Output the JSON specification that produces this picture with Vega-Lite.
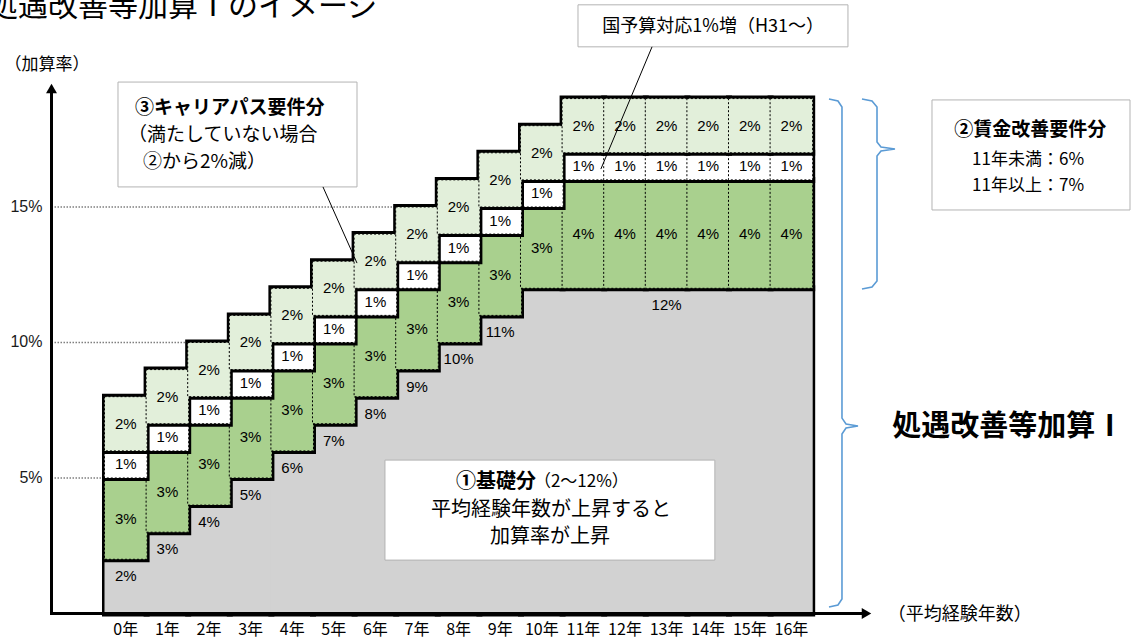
{
"$schema":"https://vega.github.io/schema/vega-lite/v6.json",
"width":1138,"height":644,"autosize":"none","padding":0,"background":"#ffffff",
"config":{"view":{"stroke":null},"font":"Noto Sans CJK JP","text":{"color":"#000000"}},
"datasets":{
"cells":[
{"year":0,"base":2,"green":3,"white":1,"light":2},
{"year":1,"base":3,"green":3,"white":1,"light":2},
{"year":2,"base":4,"green":3,"white":1,"light":2},
{"year":3,"base":5,"green":3,"white":1,"light":2},
{"year":4,"base":6,"green":3,"white":1,"light":2},
{"year":5,"base":7,"green":3,"white":1,"light":2},
{"year":6,"base":8,"green":3,"white":1,"light":2},
{"year":7,"base":9,"green":3,"white":1,"light":2},
{"year":8,"base":10,"green":3,"white":1,"light":2},
{"year":9,"base":11,"green":3,"white":1,"light":2},
{"year":10,"base":12,"green":3,"white":1,"light":2},
{"year":11,"base":12,"green":4,"white":1,"light":2},
{"year":12,"base":12,"green":4,"white":1,"light":2},
{"year":13,"base":12,"green":4,"white":1,"light":2},
{"year":14,"base":12,"green":4,"white":1,"light":2},
{"year":15,"base":12,"green":4,"white":1,"light":2},
{"year":16,"base":12,"green":4,"white":1,"light":2}
],
"grid":[{"pct":5},{"pct":10},{"pct":15}],
"braces":[
{"id":"all","k":1,"x":17.404,"y":18.985},
{"id":"all","k":2,"x":17.62,"y":18.911},
{"id":"all","k":3,"x":17.716,"y":18.69},
{"id":"all","k":4,"x":17.716,"y":7.21},
{"id":"all","k":5,"x":17.813,"y":6.99},
{"id":"all","k":6,"x":18.101,"y":6.919},
{"id":"all","k":7,"x":17.813,"y":6.845},
{"id":"all","k":8,"x":17.716,"y":6.624},
{"id":"all","k":9,"x":17.716,"y":0.535},
{"id":"all","k":10,"x":17.62,"y":0.314},
{"id":"all","k":11,"x":17.404,"y":0.24},
{"id":"wage","k":1,"x":18.197,"y":18.985},
{"id":"wage","k":2,"x":18.438,"y":18.911},
{"id":"wage","k":3,"x":18.558,"y":18.69},
{"id":"wage","k":4,"x":18.558,"y":17.399},
{"id":"wage","k":5,"x":18.654,"y":17.214},
{"id":"wage","k":6,"x":18.99,"y":17.14},
{"id":"wage","k":7,"x":18.654,"y":17.066},
{"id":"wage","k":8,"x":18.558,"y":16.882},
{"id":"wage","k":9,"x":18.558,"y":12.269},
{"id":"wage","k":10,"x":18.438,"y":12.048},
{"id":"wage","k":11,"x":18.197,"y":11.974}
],
"boxes":[
{"x":0.3125,"x2":6.058,"y":19.61,"y2":15.74},
{"x":11.37,"x2":17.86,"y":22.46,"y2":20.91},
{"x":19.88,"x2":24.64,"y":18.95,"y2":14.89},
{"x":6.73,"x2":14.66,"y":5.66,"y2":1.97}
],
"leaders":[
{"x":5.24,"y":15.74,"x2":6.058,"y2":12.93},
{"x":13.15,"y":20.91,"x2":11.92,"y2":16.4}
],
"notes":[
{"role":"title","x":-2.812,"y":22.05,"text":"処遇改善等加算Ⅰのイメージ"},
{"role":"y_title","x":-1.394,"y":20.24,"text":"（加算率）"},
{"role":"x_title","x":20.55,"y":-0.055,"text":"（平均経験年数）"},
{"role":"career_head","x":0.72,"y":18.65,"text":"③キャリアパス要件分"},
{"role":"career_body","x":0.553,"y":17.66,"text":"（満たしていない場合"},
{"role":"career_body","x":0.913,"y":16.66,"text":"②から2%減）"},
{"role":"budget","x":14.62,"y":21.64,"text":"国予算対応1%増（H31～）"},
{"role":"wage_head","x":22.24,"y":17.84,"text":"②賃金改善要件分"},
{"role":"wage_body","x":22.19,"y":16.73,"text":"11年未満：6%"},
{"role":"wage_body","x":22.19,"y":15.77,"text":"11年以上：7%"},
{"role":"total","x":21.71,"y":6.88,"text":"処遇改善等加算Ⅰ"},
{"role":"base_head","x":10.36,"y":4.85,"text":"①基礎分"},
{"role":"base_range","x":10.31,"y":4.85,"text":"（2～12%）"},
{"role":"base_body","x":10.72,"y":3.82,"text":"平均経験年数が上昇すると"},
{"role":"base_body","x":10.7,"y":2.82,"text":"加算率が上昇"}
],
"axislines":[
{"x":-1.286,"y":0,"x2":-1.286,"y2":19.2},
{"x":-1.286,"y":0,"x2":18.197,"y2":0}
],
"arrows":[{"dir":"up","x":-1.286,"y":19.37},{"dir":"right","x":18.305,"y":0}]
},
"layer":[
{"data":{"name":"grid"},
 "mark":{"type":"rule","stroke":"#7f7f7f","strokeWidth":1.5,"strokeDash":[1.5,1.5]},
 "encoding":{
  "x":{"datum":-1.286,"type":"quantitative","scale":{"domain":[-2.524,24.832],"nice":false,"zero":false},"axis":null},
  "x2":{"datum":17},
  "y":{"field":"pct","type":"quantitative","scale":{"domain":[-1.126,22.638],"nice":false,"zero":false},"axis":null}}},
{"data":{"name":"grid"},
 "transform":[{"calculate":"datum.pct + '%'","as":"label"}],
 "mark":{"type":"text","font":"Liberation Sans","fontSize":16,"align":"right","baseline":"middle","dx":-9,"color":"#1a1a1a"},
 "encoding":{
  "x":{"datum":-1.286,"type":"quantitative","scale":{"domain":[-2.524,24.832],"nice":false,"zero":false},"axis":null},
  "y":{"field":"pct","type":"quantitative","scale":{"domain":[-1.126,22.638],"nice":false,"zero":false},"axis":null},
  "text":{"field":"label"}}},
{"data":{"name":"braces"},
 "mark":{"type":"line","color":"#5b9bd5","strokeWidth":1.6},
 "encoding":{
  "x":{"field":"x","type":"quantitative","scale":{"domain":[-2.524,24.832],"nice":false,"zero":false},"axis":null},
  "y":{"field":"y","type":"quantitative","scale":{"domain":[-1.126,22.638],"nice":false,"zero":false},"axis":null},
  "detail":{"field":"id"},
  "order":{"field":"k","type":"quantitative"}}},
{"data":{"name":"cells"},
 "transform":[
  {"calculate":"datum.year + 0.5","as":"year_mid"},
  {"calculate":"datum.year + '年'","as":"ylabel"}
 ],
 "mark":{"type":"text","fontSize":16,"align":"center","baseline":"middle","dy":17},
 "encoding":{
  "x":{"field":"year_mid","type":"quantitative","scale":{"domain":[-2.524,24.832],"nice":false,"zero":false},"axis":null},
  "y":{"datum":0,"type":"quantitative","scale":{"domain":[-1.126,22.638],"nice":false,"zero":false},"axis":null},
  "text":{"field":"ylabel"}}},
{"data":{"name":"cells"},
 "transform":[
  {"fold":["base","green","white","light"],"as":["part","value"]},
  {"calculate":"indexof(['base','green','white','light'], datum.part)","as":"k"},
  {"stack":"value","groupby":["year"],"sort":[{"field":"k","order":"ascending"}],"as":["lo","hi"]},
  {"calculate":"datum.year + 1","as":"year_end"},
  {"calculate":"datum.year + 0.5","as":"year_mid"},
  {"calculate":"(datum.lo + datum.hi) / 2","as":"mid"},
  {"calculate":"datum.value + '%'","as":"label"}
 ],
 "encoding":{
  "x":{"field":"year","type":"quantitative","scale":{"domain":[-2.524,24.832],"nice":false,"zero":false},"axis":null},
  "x2":{"field":"year_end"},
  "y":{"field":"lo","type":"quantitative","scale":{"domain":[-1.126,22.638],"nice":false,"zero":false},"axis":null},
  "y2":{"field":"hi"}},
 "layer":[
  {"transform":[{"filter":"datum.part==='base'"}],"mark":{"type":"rect","fill":"#000000","stroke":"#000000","strokeWidth":6}},
  {"transform":[{"filter":"datum.part==='base'"}],"mark":{"type":"rect","fill":"#d2d2d2","xOffset":-0.5,"x2Offset":0.5}},
  {"transform":[{"filter":"datum.part==='green'"}],"mark":{"type":"rect","fill":"#000000","stroke":"#000000","strokeWidth":6}},
  {"transform":[{"filter":"datum.part==='green'"}],"mark":{"type":"rect","fill":"#a9d08e","xOffset":-0.5,"x2Offset":0.5,"stroke":"#000000","strokeWidth":1,"strokeDash":[2,2]}},
  {"transform":[{"filter":"datum.part==='white'"}],"mark":{"type":"rect","fill":"#000000","stroke":"#000000","strokeWidth":6}},
  {"transform":[{"filter":"datum.part==='white'"}],"mark":{"type":"rect","fill":"#ffffff","xOffset":-0.5,"x2Offset":0.5,"stroke":"#000000","strokeWidth":1,"strokeDash":[2,2]}},
  {"transform":[{"filter":"datum.part==='light'"}],"mark":{"type":"rect","fill":"#000000","stroke":"#000000","strokeWidth":6}},
  {"transform":[{"filter":"datum.part==='light'"}],"mark":{"type":"rect","fill":"#e2efda","xOffset":-0.5,"x2Offset":0.5,"stroke":"#000000","strokeWidth":1,"strokeDash":[2,2]}},
  {"transform":[{"filter":"datum.part!=='base'"}],
   "mark":{"type":"text","font":"Liberation Sans","fontSize":15,"baseline":"middle","align":"center"},
   "encoding":{
    "x":{"field":"year_mid","type":"quantitative","scale":{"domain":[-2.524,24.832],"nice":false,"zero":false},"axis":null},
    "y":{"field":"mid","type":"quantitative","scale":{"domain":[-1.126,22.638],"nice":false,"zero":false},"axis":null},
    "x2":null,"y2":null,
    "text":{"field":"label"}}},
  {"transform":[{"filter":"datum.part==='base' && (datum.year<=9 || datum.year===13)"}],
   "mark":{"type":"text","font":"Liberation Sans","fontSize":15,"baseline":"middle","align":"center","dy":17},
   "encoding":{
    "x":{"field":"year_mid","type":"quantitative","scale":{"domain":[-2.524,24.832],"nice":false,"zero":false},"axis":null},
    "y":{"field":"hi","type":"quantitative","scale":{"domain":[-1.126,22.638],"nice":false,"zero":false},"axis":null},
    "x2":null,"y2":null,
    "text":{"field":"label"}}}
 ]},
{"data":{"name":"boxes"},
 "mark":{"type":"rect","fill":"#ffffff","stroke":"#b3b3b3","strokeWidth":1},
 "encoding":{
  "x":{"field":"x","type":"quantitative","scale":{"domain":[-2.524,24.832],"nice":false,"zero":false},"axis":null},
  "x2":{"field":"x2"},
  "y":{"field":"y","type":"quantitative","scale":{"domain":[-1.126,22.638],"nice":false,"zero":false},"axis":null},
  "y2":{"field":"y2"}}},
{"data":{"name":"leaders"},
 "mark":{"type":"rule","stroke":"#000000","strokeWidth":1},
 "encoding":{
  "x":{"field":"x","type":"quantitative","scale":{"domain":[-2.524,24.832],"nice":false,"zero":false},"axis":null},
  "x2":{"field":"x2"},
  "y":{"field":"y","type":"quantitative","scale":{"domain":[-1.126,22.638],"nice":false,"zero":false},"axis":null},
  "y2":{"field":"y2"}}},
{"data":{"name":"notes"},
 "encoding":{
  "x":{"field":"x","type":"quantitative","scale":{"domain":[-2.524,24.832],"nice":false,"zero":false},"axis":null},
  "y":{"field":"y","type":"quantitative","scale":{"domain":[-1.126,22.638],"nice":false,"zero":false},"axis":null},
  "text":{"field":"text"}},
 "layer":[
  {"transform":[{"filter":"datum.role==='title'"}],"mark":{"type":"text","fontSize":30,"align":"left","baseline":"alphabetic"}},
  {"transform":[{"filter":"datum.role==='y_title'"}],"mark":{"type":"text","fontSize":17,"align":"center","baseline":"middle"}},
  {"transform":[{"filter":"datum.role==='x_title'"}],"mark":{"type":"text","fontSize":18,"align":"center","baseline":"middle"}},
  {"transform":[{"filter":"datum.role==='career_head'"}],"mark":{"type":"text","fontSize":19,"fontWeight":"bold","align":"left","baseline":"middle"}},
  {"transform":[{"filter":"datum.role==='career_body'"}],"mark":{"type":"text","fontSize":19,"align":"left","baseline":"middle"}},
  {"transform":[{"filter":"datum.role==='budget'"}],"mark":{"type":"text","fontSize":18,"align":"center","baseline":"middle"}},
  {"transform":[{"filter":"datum.role==='wage_head'"}],"mark":{"type":"text","fontSize":19,"fontWeight":"bold","align":"center","baseline":"middle"}},
  {"transform":[{"filter":"datum.role==='wage_body'"}],"mark":{"type":"text","fontSize":17,"align":"center","baseline":"middle"}},
  {"transform":[{"filter":"datum.role==='total'"}],"mark":{"type":"text","fontSize":29,"fontWeight":"bold","align":"center","baseline":"middle"}},
  {"transform":[{"filter":"datum.role==='base_head'"}],"mark":{"type":"text","fontSize":20,"fontWeight":"bold","align":"right","baseline":"middle"}},
  {"transform":[{"filter":"datum.role==='base_range'"}],"mark":{"type":"text","fontSize":17,"align":"left","baseline":"middle"}},
  {"transform":[{"filter":"datum.role==='base_body'"}],"mark":{"type":"text","fontSize":20,"align":"center","baseline":"middle"}}
 ]},
{"data":{"name":"axislines"},
 "mark":{"type":"rule","stroke":"#000000","strokeWidth":3,"strokeCap":"square"},
 "encoding":{
  "x":{"field":"x","type":"quantitative","scale":{"domain":[-2.524,24.832],"nice":false,"zero":false},"axis":null},
  "x2":{"field":"x2"},
  "y":{"field":"y","type":"quantitative","scale":{"domain":[-1.126,22.638],"nice":false,"zero":false},"axis":null},
  "y2":{"field":"y2"}}},
{"data":{"name":"arrows"},
 "transform":[{"filter":"datum.dir==='up'"}],
 "mark":{"type":"point","shape":"triangle-up","filled":true,"color":"#000000","size":120,"opacity":1},
 "encoding":{
  "x":{"field":"x","type":"quantitative","scale":{"domain":[-2.524,24.832],"nice":false,"zero":false},"axis":null},
  "y":{"field":"y","type":"quantitative","scale":{"domain":[-1.126,22.638],"nice":false,"zero":false},"axis":null}}},
{"data":{"name":"arrows"},
 "transform":[{"filter":"datum.dir==='right'"}],
 "mark":{"type":"point","shape":"triangle-right","filled":true,"color":"#000000","size":120,"opacity":1},
 "encoding":{
  "x":{"field":"x","type":"quantitative","scale":{"domain":[-2.524,24.832],"nice":false,"zero":false},"axis":null},
  "y":{"field":"y","type":"quantitative","scale":{"domain":[-1.126,22.638],"nice":false,"zero":false},"axis":null}}}
]
}
